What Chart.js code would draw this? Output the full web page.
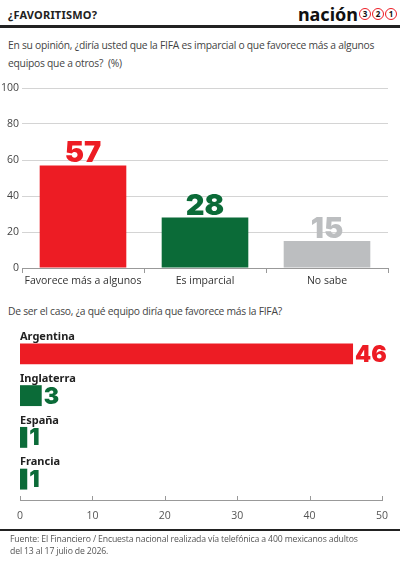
<!DOCTYPE html>
<html>
<head>
<meta charset="utf-8">
<script src="https://cdn.jsdelivr.net/npm/chart.js@4"></script>
<style>
  html, body { margin: 0; padding: 0; background: #fff; }
  body { width: 400px; height: 563px; position: relative; overflow: hidden; font-family: 'Open Sans', sans-serif; color: #333; }
  .title { position: absolute; left: 8px; top: 7px; font: 700 11px 'Noto Sans', sans-serif; color: #222; letter-spacing: 0.2px; }
  .logo { position: absolute; right: 3px; top: 2px; font: 700 18px 'Noto Sans', sans-serif; color: #111; display: flex; align-items: center; }
  .logo .c { display: inline-block; width: 10px; height: 10px; border: 1.5px solid #ed1c24; border-radius: 50%; font: 700 8px/10px 'Noto Sans', sans-serif; text-align: center; color: #111; margin-left: 1px; }
  .rule { position: absolute; left: 0; width: 400px; background: #222; }
  .q { position: absolute; left: 8px; font-size: 10.3px; line-height: 18px; color: #444; letter-spacing: -0.25px; white-space: nowrap; }
  .src { position: absolute; left: 10px; top: 533px; font-size: 8.7px; line-height: 12px; color: #555; letter-spacing: -0.15px; white-space: nowrap; }
  canvas { position: absolute; left: 0; }
</style>
</head>
<body>
<div class="title">¿FAVORITISMO?</div>
<div class="logo">nación<span class="c">3</span><span class="c">2</span><span class="c">1</span></div>
<div class="rule" style="top:25px;height:3px"></div>
<div class="q" style="top:36px">En su opinión, ¿diría usted que la FIFA es imparcial o que favorece más a algunos<br>equipos que a otros?&nbsp; (%)</div>
<div style="position:absolute;left:0;top:78px;width:400px;height:212px"><canvas id="top"></canvas></div>
<div class="q" style="top:302px">De ser el caso, ¿a qué equipo diría que favorece más la FIFA?</div>
<div style="position:absolute;left:0;top:320px;width:400px;height:210px"><canvas id="bottom"></canvas></div>
<div class="rule" style="top:529px;height:2px"></div>
<div class="src">Fuente: El Financiero / Encuesta nacional realizada vía telefónica a 400 mexicanos adultos<br>del 13 al 17 julio de 2026.</div>

<script>
const opinionLabels = ['Favorece más a algunos', 'Es imparcial', 'No sabe'];
const opinionValues = [57, 28, 15];
const opinionColors = ['#ed1c24', '#0b6b38', '#bcbec0'];
const opinionTicks = [0, 20, 40, 60, 80, 100];

const teamLabels = ['Argentina', 'Inglaterra', 'España', 'Francia'];
const teamValues = [46, 3, 1, 1];
const teamColors = ['#ed1c24', '#0b6b38', '#0b6b38', '#0b6b38'];
const teamTicks = [0, 10, 20, 30, 40, 50];

const bigFont = "900 29px 'Inter', 'DejaVu Sans', sans-serif";

// value labels above the vertical bars
const topLabels = {
  id: 'topLabels',
  afterDatasetsDraw(chart) {
    const ctx = chart.ctx;
    chart.getDatasetMeta(0).data.forEach((bar, i) => {
      ctx.save();
      ctx.font = bigFont;
      ctx.fillStyle = opinionColors[i];
      ctx.textAlign = 'center';
      ctx.textBaseline = 'alphabetic';
      ctx.fillText(opinionValues[i], bar.x, bar.y - 3);
      ctx.restore();
    });
  }
};

// team names above bars, values to the right, upward ticks on the axis
const teamDeco = {
  id: 'teamDeco',
  afterDatasetsDraw(chart) {
    const ctx = chart.ctx;
    const h = 21;
    chart.getDatasetMeta(0).data.forEach((bar, i) => {
      ctx.save();
      ctx.font = "700 11px 'Noto Sans', sans-serif";
      ctx.fillStyle = '#222';
      ctx.textAlign = 'left';
      ctx.textBaseline = 'bottom';
      ctx.fillText(teamLabels[i], chart.chartArea.left, bar.y - h / 2 - 1);
      ctx.font = "900 23px 'Inter', 'DejaVu Sans', sans-serif";
      ctx.fillStyle = teamColors[i];
      ctx.textBaseline = 'middle';
      ctx.fillText(teamValues[i], bar.x + 2, bar.y + 1);
      ctx.restore();
    });
    const xs = chart.scales.x;
    const yb = chart.chartArea.bottom;
    ctx.save();
    ctx.strokeStyle = '#999';
    ctx.lineWidth = 1;
    teamTicks.forEach(v => {
      const px = Math.round(xs.getPixelForValue(v)) + 0.5;
      ctx.beginPath();
      ctx.moveTo(px, yb - 4);
      ctx.lineTo(px, yb);
      ctx.stroke();
    });
    ctx.restore();
  }
};

new Chart(document.getElementById('top'), {
  type: 'bar',
  data: {
    labels: opinionLabels,
    datasets: [{ data: opinionValues, backgroundColor: opinionColors, barPercentage: 0.71, categoryPercentage: 1 }]
  },
  options: {
    responsive: true,
    maintainAspectRatio: false,
    animation: false,
    layout: { padding: { top: 10, right: 12, left: 0, bottom: 0 } },
    plugins: { legend: { display: false }, tooltip: { enabled: false } },
    scales: {
      x: {
        afterFit: s => { s.height = 22; s.paddingLeft = 0; s.paddingRight = 0; },
        grid: { drawOnChartArea: false, offset: true, tickLength: 5, color: '#999' },
        border: { color: '#999' },
        ticks: { color: '#333', font: { family: 'Open Sans', size: 10.5 }, padding: 2, maxRotation: 0, minRotation: 0, autoSkip: false }
      },
      y: {
        min: 0, max: 100,
        afterFit: s => { s.width = 22; },
        afterBuildTicks: s => { s.ticks = opinionTicks.map(v => ({ value: v })); },
        grid: { color: '#d4d4d4', drawTicks: false },
        border: { display: false },
        ticks: { color: '#444', font: { family: 'Open Sans', size: 10.5 }, padding: 3 }
      }
    }
  },
  plugins: [topLabels]
});

new Chart(document.getElementById('bottom'), {
  type: 'bar',
  data: {
    labels: teamLabels,
    datasets: [{ data: teamValues, backgroundColor: teamColors, barPercentage: 0.5, categoryPercentage: 1 }]
  },
  options: {
    indexAxis: 'y',
    responsive: true,
    maintainAspectRatio: false,
    animation: false,
    layout: { padding: { top: 13, right: 18, left: 20, bottom: 0 } },
    plugins: { legend: { display: false }, tooltip: { enabled: false } },
    scales: {
      x: {
        min: 0, max: 50,
        afterFit: s => { s.height = 30; },
        afterBuildTicks: s => { s.ticks = teamTicks.map(v => ({ value: v })); },
        grid: { display: false },
        border: { color: '#999' },
        ticks: { color: '#555', font: { family: 'Open Sans', size: 10.5 }, padding: 2 }
      },
      y: { display: false }
    }
  },
  plugins: [teamDeco]
});
</script>
</body>
</html>
